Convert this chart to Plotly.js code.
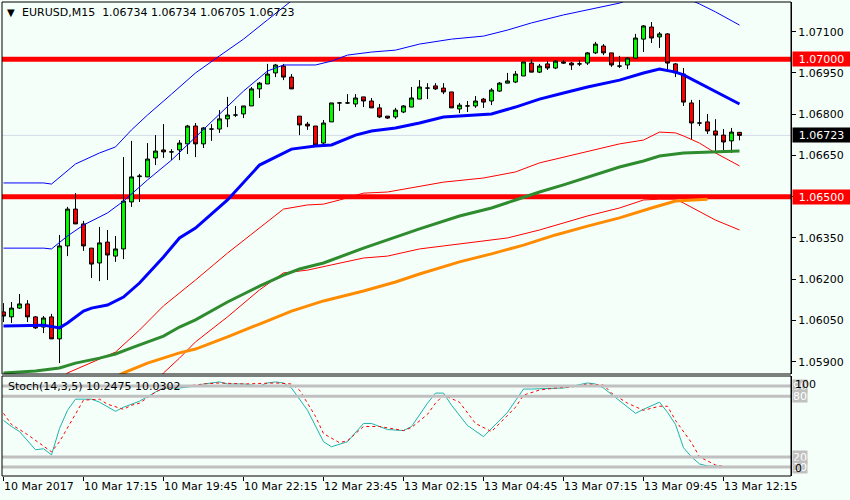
<!DOCTYPE html>
<html><head><meta charset="utf-8">
<script src="https://cdn.plot.ly/plotly-3.0.1.min.js"></script>
<style>html,body{margin:0;padding:0;background:#f5fffa;}#chart{width:850px;height:500px;}</style>
</head><body><div id="chart"></div>
<script>
// ---- candles (EURUSD M15) ----
const open  = [1.06081,1.06063,1.06095,1.06110,1.06063,1.06026,1.06063,1.05983,1.06321,1.06455,
               1.06401,1.06313,1.06259,1.06335,1.06284,1.06310,1.06481,1.06573,1.06572,1.06641,
               1.06670,1.06663,1.06670,1.06692,1.06757,1.06692,1.06746,1.06746,1.06783,1.06797,
               1.06801,1.06830,1.06892,1.06910,1.06950,1.06975,1.06935,1.06793,1.06764,1.06757,
               1.06695,1.06772,1.06841,1.06841,1.06837,1.06863,1.06848,1.06823,1.06793,1.06790,
               1.06808,1.06826,1.06855,1.06895,1.06903,1.06895,1.06881,1.06819,1.06830,1.06830,
               1.06855,1.06848,1.06884,1.06913,1.06917,1.06939,1.06986,1.06953,1.06983,1.06968,
               1.06990,1.06986,1.06983,1.06986,1.07023,1.07048,1.07023,1.06975,1.06979,1.07004,
               1.07073,1.07117,1.07081,1.07092,1.06983,1.06946,1.06841,1.06768,1.06772,1.06739,
               1.06724,1.06703,1.06734];
const high  = [1.06113,1.06117,1.06146,1.06124,1.06066,1.06066,1.06074,1.06361,1.06463,1.06513,
               1.06412,1.06313,1.06390,1.06379,1.06357,1.06644,1.06703,1.06583,1.06695,1.06724,
               1.06764,1.06673,1.06706,1.06761,1.06768,1.06753,1.06764,1.06815,1.06863,1.06830,
               1.06830,1.06899,1.06917,1.06983,1.06983,1.06983,1.06946,1.06793,1.06772,1.06757,
               1.06779,1.06841,1.06844,1.06873,1.06873,1.06863,1.06859,1.06837,1.06793,1.06823,
               1.06833,1.06899,1.06924,1.06913,1.06913,1.06913,1.06881,1.06841,1.06848,1.06866,
               1.06859,1.06895,1.06917,1.06950,1.06957,1.06990,1.07000,1.06983,1.06993,1.06997,
               1.06997,1.06990,1.06997,1.07026,1.07063,1.07055,1.07023,1.07012,1.07008,1.07092,
               1.07124,1.07135,1.07099,1.07095,1.06986,1.06968,1.06852,1.06852,1.06801,1.06782,
               1.06746,1.06750,1.06734];
const low   = [1.06044,1.06041,1.06092,1.06044,1.06019,1.06004,1.05983,1.05895,1.06284,1.06401,
               1.06303,1.06204,1.06193,1.06197,1.06263,1.06273,1.06463,1.06481,1.06572,1.06615,
               1.06641,1.06633,1.06633,1.06655,1.06644,1.06677,1.06703,1.06732,1.06753,1.06790,
               1.06786,1.06830,1.06859,1.06910,1.06935,1.06924,1.06892,1.06724,1.06743,1.06684,
               1.06684,1.06772,1.06812,1.06837,1.06826,1.06826,1.06823,1.06786,1.06783,1.06783,
               1.06804,1.06826,1.06855,1.06855,1.06888,1.06873,1.06823,1.06804,1.06808,1.06823,
               1.06823,1.06833,1.06881,1.06913,1.06913,1.06939,1.06953,1.06950,1.06961,1.06964,
               1.06983,1.06961,1.06975,1.06979,1.07019,1.07015,1.06972,1.06968,1.06964,1.07004,
               1.07026,1.07059,1.07041,1.06961,1.06935,1.06830,1.06710,1.06757,1.06728,1.06663,
               1.06663,1.06659,1.06705];
const close = [1.06066,1.06095,1.06110,1.06063,1.06023,1.06059,1.05983,1.06321,1.06455,1.06401,
               1.06321,1.06255,1.06332,1.06288,1.06310,1.06484,1.06572,1.06575,1.06637,1.06666,
               1.06663,1.06663,1.06695,1.06757,1.06692,1.06750,1.06746,1.06783,1.06797,1.06797,
               1.06830,1.06892,1.06913,1.06946,1.06979,1.06935,1.06892,1.06761,1.06757,1.06688,
               1.06768,1.06841,1.06841,1.06841,1.06859,1.06848,1.06823,1.06790,1.06786,1.06815,
               1.06830,1.06859,1.06899,1.06895,1.06892,1.06881,1.06823,1.06833,1.06830,1.06848,
               1.06844,1.06888,1.06913,1.06921,1.06946,1.06990,1.06953,1.06975,1.06968,1.06993,
               1.06986,1.06979,1.06983,1.07023,1.07055,1.07023,1.06979,1.06975,1.07004,1.07077,
               1.07121,1.07077,1.07092,1.06986,1.06950,1.06844,1.06768,1.06768,1.06739,1.06724,
               1.06699,1.06735,1.06723];

// ---- time axis ----
const timeTickIdx  = [0,10,20,30,40,50,60,70,80,90];
const timeTickText = ['10 Mar 2017','10 Mar 17:15','10 Mar 19:45','10 Mar 22:15','12 Mar 23:45',
                      '13 Mar 02:15','13 Mar 04:45','13 Mar 07:15','13 Mar 09:45','13 Mar 12:15'];
const priceTicks = [1.05900,1.06050,1.06200,1.06350,1.06500,1.06650,1.06800,1.06950,1.07100];

// ---- indicator lines (bar index / value) ----
const outerBandIdx = [0,5,6,9,12,14,16,18,21,24,27,30,33,36,38];
const outerBandVal = [1.06550,1.06550,1.06546,1.06619,1.06659,1.06681,1.06743,1.06797,1.06873,1.06950,1.07012,1.07073,1.07143,1.07215,1.07259];
const upperBandIdx = [0,5,6,8,10,13,15,18,21,24,27,30,33,35,39,41,43,46,49,52,56,60,63,66,70,73,77,79,82,85,87,89,92];
const upperBandVal = [1.06313,1.06313,1.06310,1.06357,1.06397,1.06441,1.06484,1.06561,1.06633,1.06717,1.06801,1.06884,1.06957,1.06979,1.06979,1.06993,1.07015,1.07026,1.07033,1.07055,1.07073,1.07084,1.07106,1.07132,1.07161,1.07179,1.07204,1.07226,1.07244,1.07226,1.07201,1.07172,1.07124];
const blueMaIdx = [0,3,5,7,8,10,11,13,15,17,20,22,24,28,32,36,39,41,44,46,49,52,55,59,61,64,67,70,73,77,80,82,84,85,87,89,92];
const blueMaVal = [1.06030,1.06033,1.06033,1.06023,1.06041,1.06084,1.06095,1.06106,1.06135,1.06186,1.06281,1.06350,1.06386,1.06488,1.06615,1.06673,1.06684,1.06688,1.06724,1.06739,1.06750,1.06768,1.06790,1.06797,1.06801,1.06826,1.06855,1.06877,1.06899,1.06924,1.06950,1.06964,1.06953,1.06943,1.06913,1.06881,1.06837];
const redUpIdx = [7,8,14,17,20,24,28,32,35,38,40,42,45,48,52,55,60,64,67,70,73,77,80,82,84,85,87,89,92];
const redUpVal = [1.05833,1.05859,1.05935,1.06015,1.06103,1.06197,1.06295,1.06386,1.06455,1.06470,1.06473,1.06488,1.06513,1.06517,1.06539,1.06553,1.06568,1.06590,1.06623,1.06644,1.06666,1.06692,1.06706,1.06735,1.06732,1.06721,1.06695,1.06659,1.06612];
const redLoIdx = [19,20,22,24,28,32,35,38,41,45,48,52,55,61,63,67,70,73,77,80,82,84,85,89,92];
const redLoVal = [1.05830,1.05859,1.05913,1.05972,1.06063,1.06161,1.06223,1.06233,1.06252,1.06277,1.06284,1.06310,1.06321,1.06343,1.06350,1.06379,1.06404,1.06430,1.06459,1.06488,1.06491,1.06491,1.06477,1.06415,1.06379];
const greenMaIdx = [0,4,7,9,12,14,16,20,22,24,28,32,35,37,40,45,49,52,57,61,64,67,70,73,77,80,82,85,88,92];
const greenMaVal = [1.05859,1.05866,1.05877,1.05895,1.05913,1.05928,1.05950,1.05993,1.06026,1.06052,1.06117,1.06175,1.06215,1.06237,1.06259,1.06313,1.06353,1.06383,1.06430,1.06459,1.06488,1.06517,1.06543,1.06572,1.06608,1.06630,1.06648,1.06659,1.06663,1.06666];
const orangeMaIdx = [14,15,18,22,24,28,32,36,40,45,49,52,57,61,65,69,73,77,81,84,88];
const orangeMaVal = [1.05844,1.05859,1.05895,1.05932,1.05946,1.05990,1.06037,1.06084,1.06121,1.06157,1.06190,1.06219,1.06263,1.06292,1.06324,1.06361,1.06393,1.06423,1.06459,1.06484,1.06491];

const hLevels = [1.07000, 1.06500];
const lastPrice = 1.06723;

// ---- stochastic (14,3,5) ----
const stochKIdx = [0,1,2,4,5,6,7,8,9,11,12,14,15,17,19,20,22,24,25,27,28,30,32,33,34,35,36,38,40,41,43,45,46,48,50,51,53,54,55,56,58,60,63,65,66,70,73,74,75,78,79,80,82,83,84,85,86,87,88,90,92];
const stochKVal = [56,50,45,27,28,22,48,66,77,77,74,65,69,75,84,88,88,90,92,94,92,92,90,93,94,93,88,66,35,30,35,53,53,47,46,50,73,83,83,71,51,40,64,87,87,88,93,92,88,69,63,67,74,64,52,29,20,13,11,10.5,10.25];
const stochDIdx = [0,1,3,5,6,7,9,10,12,13,15,16,17,19,20,22,25,27,30,34,36,37,39,40,42,43,45,47,50,51,53,54,55,57,59,61,62,64,65,67,69,71,73,75,76,78,80,82,83,84,86,87,89,90,92];
const stochDVal = [63,52,42,31,25,35,62,76,77,72,67,71,73,84,88,89,92,93,92,93,92,86,60,43,34,36,50,50,46,49,62,73,81,74,53,45,53,69,81,86,88,89,92,91,83,73,66,70,70,56,34,20,12,10.5,10.03];
const stochLevels = [90, 80, 20, 10];

// ---- geometry helpers ----
const W = 850, H = 500, ML = 2, MR = 59, MT = 2, MB = 24;
const plotW = W - ML - MR, plotH = H - MT - MB;
const pxX = p => (p - ML) / plotW;
const pxY = p => (H - MB - p) / plotH;
const mainDomain = [pxY(374), 1];
const stochDomain = [0, pxY(376)];
const FONT = 'DejaVu Sans, Verdana, sans-serif';

const idx = open.map((_, i) => i);

const traces = [
  {type:'scatter', mode:'lines', x:outerBandIdx, y:outerBandVal, line:{color:'#0000ff', width:1}, hoverinfo:'skip'},
  {type:'scatter', mode:'lines', x:upperBandIdx, y:upperBandVal, line:{color:'#0000ff', width:1}, hoverinfo:'skip'},
  {type:'scatter', mode:'lines', x:redUpIdx, y:redUpVal, line:{color:'#ff0000', width:1}, hoverinfo:'skip'},
  {type:'scatter', mode:'lines', x:redLoIdx, y:redLoVal, line:{color:'#ff0000', width:1}, hoverinfo:'skip'},
  {type:'scatter', mode:'lines', x:orangeMaIdx, y:orangeMaVal, line:{color:'#ff8c00', width:3}, hoverinfo:'skip'},
  {type:'scatter', mode:'lines', x:greenMaIdx, y:greenMaVal, line:{color:'#2e8b2e', width:3}, hoverinfo:'skip'},
  {type:'scatter', mode:'lines', x:blueMaIdx, y:blueMaVal, line:{color:'#0000ff', width:3}, hoverinfo:'skip'},
  {type:'candlestick', x:idx, open:open, high:high, low:low, close:close,
   increasing:{line:{color:'#000000', width:1}, fillcolor:'#00ff00'},
   decreasing:{line:{color:'#000000', width:1}, fillcolor:'#ff0000'},
   whiskerwidth:0, hoverinfo:'skip'},
  {type:'scatter', mode:'lines', x:stochKIdx, y:stochKVal, xaxis:'x', yaxis:'y2', line:{color:'#20b2aa', width:1}, hoverinfo:'skip'},
  {type:'scatter', mode:'lines', x:stochDIdx, y:stochDVal, xaxis:'x', yaxis:'y2', line:{color:'#ff0000', width:1, dash:'3px,3px'}, hoverinfo:'skip'}
];

const shapes = [];
hLevels.forEach(v => shapes.push({type:'line', xref:'paper', yref:'y', x0:0, x1:1, y0:v, y1:v, line:{color:'#ff0000', width:5}, layer:'below'}));
shapes.push({type:'line', xref:'paper', yref:'y', x0:0, x1:1, y0:lastPrice, y1:lastPrice, line:{color:'#d3dbe8', width:1}, layer:'below'});
stochLevels.forEach(v => shapes.push({type:'line', xref:'paper', yref:'y2', x0:0, x1:1, y0:v, y1:v, line:{color:'#c0c0c0', width:3}, layer:'above'}));
shapes.push({type:'rect', xref:'paper', yref:'paper', x0:0, x1:1, y0:mainDomain[0], y1:1, line:{color:'#000', width:1}, fillcolor:'rgba(0,0,0,0)'});
shapes.push({type:'rect', xref:'paper', yref:'paper', x0:0, x1:1, y0:0, y1:stochDomain[1], line:{color:'#000', width:1}, fillcolor:'rgba(0,0,0,0)'});

const annotations = [
  {xref:'paper', yref:'paper', x:pxX(11), y:pxY(12.5), text:'▼', showarrow:false, font:{family:FONT, size:10, color:'#000'}, xanchor:'center', yanchor:'middle'},
  {xref:'paper', yref:'paper', x:pxX(20), y:pxY(12.5), text:'EURUSD,M15\u00a0\u00a01.06734 1.06734 1.06705 1.06723', showarrow:false, font:{family:FONT, size:11, color:'#000'}, xanchor:'left', yanchor:'middle'},
  {xref:'paper', yref:'paper', x:pxX(6), y:pxY(386.5), text:'Stoch(14,3,5) 10.2475 10.0302', showarrow:false, font:{family:FONT, size:11, color:'#000'}, xanchor:'left', yanchor:'middle'}
];
hLevels.forEach(v => annotations.push({xref:'paper', yref:'y', x:pxX(792), y:v, text:v.toFixed(5), showarrow:false, xanchor:'left', yanchor:'middle', bgcolor:'#ff0000', font:{family:FONT, size:11, color:'#ffffff'}, width:55, height:12, borderpad:1, align:'center'}));
annotations.push({xref:'paper', yref:'y', x:pxX(792), y:lastPrice, text:lastPrice.toFixed(5), showarrow:false, xanchor:'left', yanchor:'middle', bgcolor:'#000000', font:{family:FONT, size:11, color:'#ffffff'}, width:55, height:12, borderpad:1, align:'center'});
stochLevels.forEach(v => annotations.push({xref:'paper', yref:'y2', x:pxX(792), y:v, text:String(v), showarrow:false, xanchor:'left', yanchor:'middle', bgcolor:'#c0c0c0', font:{family:FONT, size:11, color:'#ffffff'}, width:14, height:12, borderpad:0, align:'left'}));
annotations.push({xref:'paper', yref:'paper', x:pxX(793), y:pxY(384), text:'100', showarrow:false, xanchor:'left', yanchor:'middle', font:{family:FONT, size:11, color:'#000'}});
annotations.push({xref:'paper', yref:'paper', x:pxX(793), y:pxY(468), text:'0', showarrow:false, xanchor:'left', yanchor:'middle', font:{family:FONT, size:11, color:'#000'}});

const layout = {
  width:W, height:H, margin:{l:ML, r:MR, t:MT, b:MB},
  paper_bgcolor:'#f5fffa', plot_bgcolor:'#f5fffa',
  showlegend:false, hovermode:false, dragmode:false,
  font:{family:FONT, size:11, color:'#000'},
  xaxis:{range:[(ML - 3.5) / 8, (ML + plotW - 3.5) / 8], anchor:'y2', showgrid:false, zeroline:false,
         tickvals:timeTickIdx, ticktext:timeTickText, ticks:'outside', ticklen:4, tickcolor:'#000',
         tickangle:0, ticklabelposition:'outside right', tickfont:{family:FONT, size:11, color:'#000'},
         rangeslider:{visible:false}, showline:false, fixedrange:true},
  yaxis:{domain:mainDomain, range:[1.07 - (374 - 59.2) / 27500, 1.07 - (2 - 59.2) / 27500], side:'right', anchor:'x',
         tickvals:priceTicks, tickformat:'.5f', ticks:'outside', ticklen:4, tickcolor:'#000',
         showgrid:false, zeroline:false, showline:true, linecolor:'#000', linewidth:1,
         tickfont:{family:FONT, size:11, color:'#000'}, fixedrange:true},
  yaxis2:{domain:stochDomain, range:[10 - 9 / 1.0125, 90 + 10 / 1.0125], side:'right', anchor:'x',
          showticklabels:false, ticks:'', showgrid:false, zeroline:false, showline:true, linecolor:'#000', linewidth:1, fixedrange:true},
  shapes:shapes, annotations:annotations
};

Plotly.newPlot('chart', traces, layout, {staticPlot:true, displayModeBar:false});
</script></body></html>
